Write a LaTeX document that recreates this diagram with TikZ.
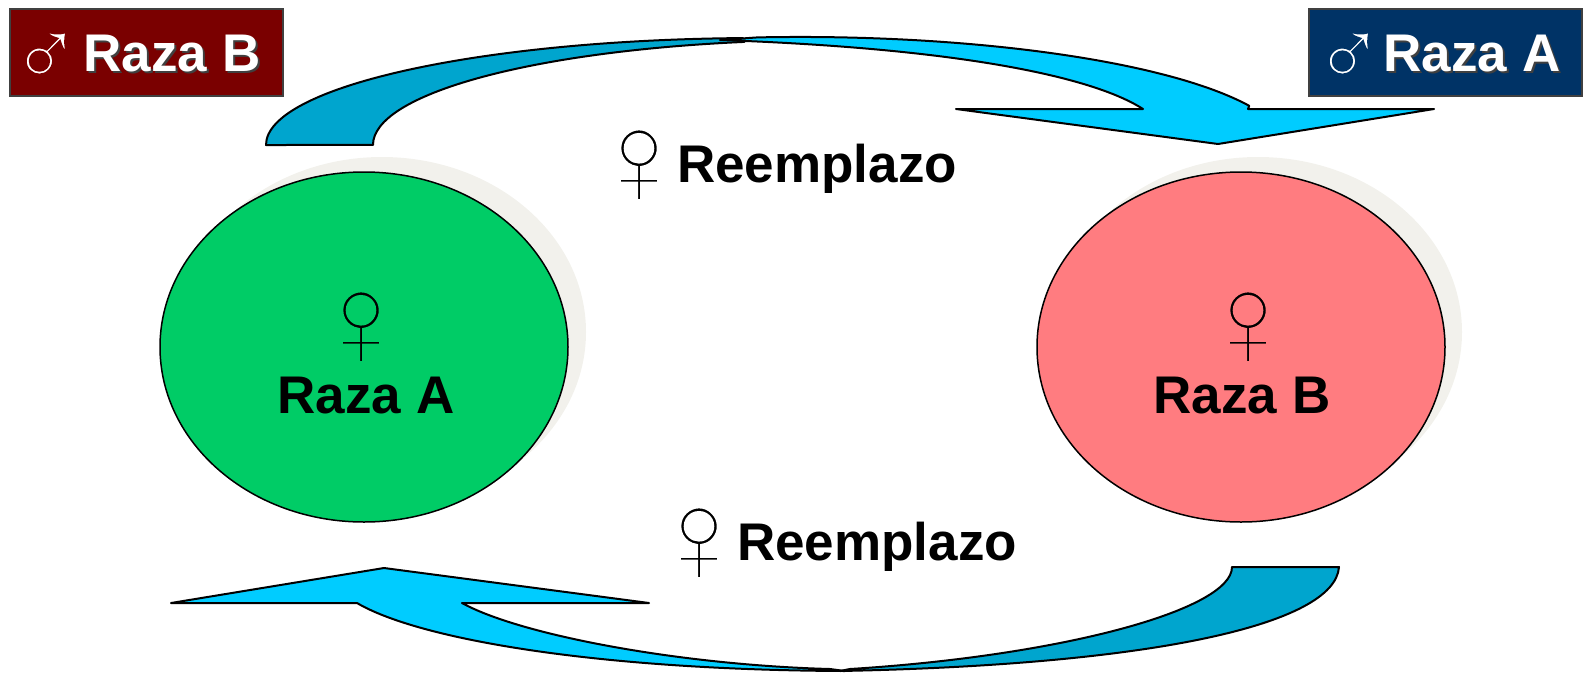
\documentclass[tikz,border=0pt]{standalone}
\usepackage{fontspec}
\setmainfont{Liberation Sans}
\usetikzlibrary{shapes.geometric}
\definecolor{cbright}{RGB}{0,204,255}
\definecolor{cdark}{RGB}{0,165,206}
\definecolor{cgreen}{RGB}{0,204,102}
\definecolor{cpink}{RGB}{255,124,128}
\definecolor{cmaroon}{RGB}{122,0,0}
\definecolor{cnavy}{RGB}{0,51,102}
\definecolor{cshadow}{RGB}{242,241,236}
\newcommand{\shadowed}[1]{\makebox[0pt][l]{\raisebox{-2pt}{\hspace{2pt}\textcolor{black!75}{#1}}}#1}
% thin a glyph by stroking its outline in the colour behind it
\newcommand{\thinglyph}[3]{\special{pdf:literal direct q 2 Tr #1 w #2 RG}#3\special{pdf:literal direct Q}}
\begin{document}
\begin{tikzpicture}[x=1pt,y=-1pt,
  big/.style={font=\fontsize{53}{60}\selectfont\bfseries, inner sep=0},
  fem/.style={font=\fontsize{137}{140}\selectfont, inner sep=0},
  mal/.style={font=\fontsize{95}{100}\selectfont, inner sep=0, text=white},
  band/.style={draw=black, line width=2pt, line join=round},
  blob/.style={ellipse, draw=black, line width=1.5pt, minimum width=408pt, minimum height=350pt, inner sep=0},
  blobshadow/.style={ellipse, fill=cshadow, minimum width=408pt, minimum height=350pt, inner sep=0},
  tag/.style={draw=black!75, line width=1.5pt, minimum width=273pt, minimum height=87pt, anchor=north west, inner sep=0}]
\useasboundingbox (0,0) rectangle (1583,673);
% ellipses
\node[blobshadow] (gsh) at (382,332) {};
\node[blobshadow] (psh) at (1258,332) {};
\node[blob, fill=cgreen] (ga) at (364,347) {};
\node[blob, fill=cpink] (pb) at (1241,347) {};
\node[fem, anchor=base] (fa) at (361,368) {\thinglyph{3}{0 0.8 0.4}{♀}};
\node[big, anchor=base] (ta) at (366,413) {Raza A};
\node[fem, anchor=base] (fb) at (1248,368) {\thinglyph{3}{1 0.486 0.502}{♀}};
\node[big, anchor=base] (tb) at (1242,413) {Raza B};
% top arrow (back face, then front face)
\filldraw[band, fill=cdark]
  (266,145) arc[start angle=180, end angle=268, x radius=494, y radius=107]
  -- (744.4,41.9) arc[start angle=259, end angle=180, x radius=459, y radius=105]
  -- cycle;
\filldraw[band, fill=cbright]
  (757.5,37.4) arc[start angle=265, end angle=337, x radius=488, y radius=113]
  -- (1248,109) -- (1434,109) -- (1218,144) -- (956,109) -- (1143,109)
  .. controls (1090,75) and (950,48) .. (720,40)
  -- cycle;
% bottom arrow (back face, then front face)
\filldraw[band, fill=cdark]
  (1232,567) -- (1339,567)
  .. controls (1335,625) and (1150,665) .. (840,671)
  -- (850,669)
  .. controls (1060,656) and (1232,610) .. (1232,567)
  -- cycle;
\filldraw[band, fill=cbright]
  (171,603) -- (384,568) -- (649,603) -- (462,603)
  .. controls (520,635) and (680,665) .. (830,669)
  -- (845,671)
  .. controls (600,670) and (420,640) .. (357,603)
  -- cycle;
% labels
\node[fem, anchor=base] (fr1) at (639,206) {\thinglyph{3}{1 1 1}{♀}};
\node[big, anchor=base west] (r1) at (677,182) {Reemplazo};
\node[fem, anchor=base] (fr2) at (699,584) {\thinglyph{3}{1 1 1}{♀}};
\node[big, anchor=base west] (r2) at (737,560) {Reemplazo};
% boxes
\node[tag, fill=cmaroon] (boxb) at (9,8) {};
\node[mal, anchor=base] (mb) at (46,86) {\thinglyph{1.6}{0.478 0 0}{♂}};
\node[big, anchor=base, text=white] (tbb) at (172,71) {\shadowed{Raza B}};
\node[tag, fill=cnavy] (boxa) at (1308,8) {};
\node[mal, anchor=base] (ma) at (1349,86) {\thinglyph{1.6}{0 0.2 0.4}{♂}};
\node[big, anchor=base, text=white] (taa) at (1472,71) {\shadowed{Raza A}};
\end{tikzpicture}
\end{document}
